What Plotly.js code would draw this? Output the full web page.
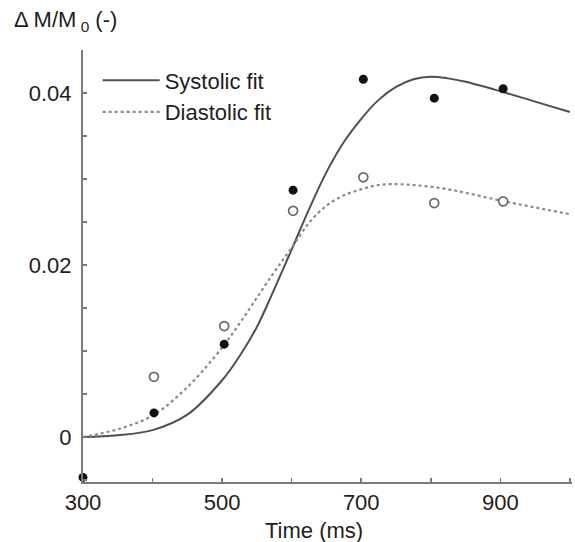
<!DOCTYPE html>
<html>
<head>
<meta charset="utf-8">
<script src="https://cdn.plot.ly/plotly-3.0.1.min.js"></script>
<style>html,body{margin:0;padding:0;background:#fff;}#chart{width:575px;height:542px;}</style>
</head>
<body>
<div id="chart"></div>
<script>
// Measured points (time in ms, ΔM/M0)
var sysTime = [300, 402, 503, 602, 703, 805, 904];
var sysMeasured = [-0.0047, 0.0028, 0.0108, 0.0287, 0.0416, 0.0394, 0.0405];
var diaTime = [402, 503, 602, 703, 805, 904];
var diaMeasured = [0.0070, 0.0129, 0.0263, 0.0302, 0.0272, 0.0274];

// Fitted curves
var fitTime = [300, 350, 400, 450, 500, 525, 550, 575, 600, 625, 650, 675, 700, 725, 750, 775, 800, 825, 850, 900, 950, 1000];
var sysFit = [0, 0.0002, 0.0008, 0.0026, 0.0066, 0.0094, 0.0128, 0.0172, 0.0218, 0.0265, 0.0308, 0.0343, 0.0370, 0.0392, 0.0407, 0.0416, 0.0419, 0.0417, 0.0413, 0.0402, 0.0390, 0.0378];
var diaFit = [0, 0.0009, 0.0025, 0.0058, 0.0104, 0.0132, 0.0162, 0.0192, 0.0220, 0.0249, 0.0269, 0.0281, 0.0288, 0.0293, 0.0294, 0.0293, 0.0291, 0.0288, 0.0284, 0.0275, 0.0267, 0.0259];

var xTickVals = [300, 500, 700, 900];
var xTickText = ['300', '500', '700', '900'];
var yTickVals = [0, 0.02, 0.04];
var yTickText = ['0', '0.02', '0.04'];

var FONT = 'Liberation Sans, Arial, Helvetica, sans-serif';
var axisColor = '#7a7a7a';
var textColor = '#1e1e1e';

var traces = [
  {x: fitTime, y: sysFit, mode: 'lines', name: 'Systolic fit',
   line: {color: '#505050', width: 2, shape: 'spline'}},
  {x: fitTime, y: diaFit, mode: 'lines', name: 'Diastolic fit',
   line: {color: '#8a8a8a', width: 2.2, dash: 'dot', shape: 'spline'}},
  {x: sysTime, y: sysMeasured, mode: 'markers', showlegend: false, cliponaxis: false,
   marker: {color: '#111', size: 9, line: {width: 0}}},
  {x: diaTime, y: diaMeasured, mode: 'markers', showlegend: false, cliponaxis: false,
   marker: {color: '#ffffff', size: 9, symbol: 'circle', line: {color: '#6a6a6a', width: 1.7}}}
];

var layout = {
  width: 575, height: 542,
  margin: {l: 83, r: 3, t: 50, b: 60},
  paper_bgcolor: '#fff', plot_bgcolor: '#fff',
  font: {family: FONT, size: 22, color: textColor},
  showlegend: true,
  legend: {x: 0.03, y: 0.978, xanchor: 'left', yanchor: 'top', itemwidth: 57,
           bgcolor: 'rgba(0,0,0,0)', font: {family: FONT, size: 22, color: textColor}},
  xaxis: {range: [300, 1003], showgrid: false, zeroline: false,
          showline: true, linecolor: axisColor, linewidth: 2,
          ticks: 'inside', ticklen: 4, tickcolor: axisColor, tickwidth: 1.5,
          tickvals: xTickVals, ticktext: xTickText,
          minor: {dtick: 100, tick0: 300, ticks: 'inside', ticklen: 4, tickcolor: axisColor, tickwidth: 1.5},
          tickfont: {family: FONT, size: 22, color: textColor}},
  yaxis: {range: [-0.00523, 0.045], showgrid: false, zeroline: false,
          showline: true, linecolor: axisColor, linewidth: 2,
          ticks: 'inside', ticklen: 4, tickcolor: axisColor, tickwidth: 1.5,
          ticklabelstandoff: 5,
          tickvals: yTickVals, ticktext: yTickText,
          minor: {dtick: 0.005, tick0: 0, ticks: 'inside', ticklen: 4, tickcolor: axisColor, tickwidth: 1.5},
          tickfont: {family: FONT, size: 22, color: textColor}},
  annotations: [
    {xref: 'paper', yref: 'paper', x: 0.472, y: -0.113, xanchor: 'center', yanchor: 'middle',
     text: 'Time (ms)', showarrow: false, font: {family: FONT, size: 22, color: textColor}},
    {xref: 'paper', yref: 'paper', x: -0.146, y: 1.067, xanchor: 'left', yanchor: 'middle',
     text: 'Δ M/M<sub> 0</sub> (-)', showarrow: false, font: {family: FONT, size: 22, color: textColor}}
  ]
};

Plotly.newPlot('chart', traces, layout, {displayModeBar: false, staticPlot: true});
</script>
</body>
</html>
